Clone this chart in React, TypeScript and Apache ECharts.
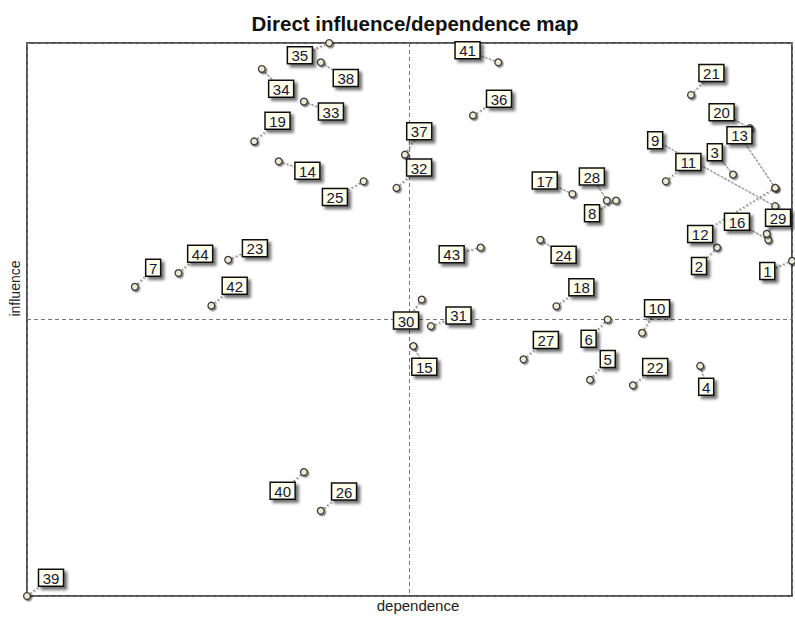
import React, { useEffect, useRef } from "react";
import * as echarts from "echarts";

// Variable ids 1..44
const variables = [
  1, 2, 3, 4, 5, 6, 7, 8, 9, 10, 11, 12, 13, 14, 15, 16, 17, 18, 19, 20, 21, 22,
  23, 24, 25, 26, 27, 28, 29, 30, 31, 32, 33, 34, 35, 36, 37, 38, 39, 40, 41, 42, 43, 44,
];

// dependence (x) for each variable
const dependence = [
  100.0, 90.2, 92.3, 88.0, 73.6, 75.9, 14.1, 77.0, 97.8, 80.4, 83.5, 97.8, 97.8, 32.9,
  50.5, 96.9, 71.3, 69.2, 29.7, 94.5, 86.8, 79.2, 26.3, 67.1, 44.0, 38.4, 64.9, 75.8,
  96.7, 51.6, 52.8, 48.3, 36.2, 30.7, 39.5, 58.3, 49.4, 38.4, 0.0, 36.2, 61.6, 24.1,
  59.3, 19.8,
];

// influence (y) for each variable
const influence = [
  60.6, 63.0, 76.2, 41.6, 39.1, 50.0, 55.9, 71.5, 70.5, 47.6, 75.0, 73.8, 73.8, 78.6,
  45.2, 64.4, 72.7, 52.4, 82.2, 84.6, 90.6, 38.1, 60.8, 64.4, 75.0, 15.4, 42.8, 71.5,
  65.5, 53.6, 48.8, 73.8, 89.4, 95.3, 100.0, 86.9, 79.8, 96.5, 0.0, 22.4, 96.5, 52.5,
  63.0, 58.4,
];

// label placement (pixel offsets of label box centre from the point) - layout only
const labelDx = [
  -24.7, -18, -18.3, 6, 17.7, -19, 18.3, -24, -120, 15, 22.6, -75, -35.7, 28.7, 11,
  -31.3, -27.7, 25, 23.3, -28.3, 20.4, 22.3, 26.7, 23.3, -28.7, 23.3, 22.4, -15, 11.3,
  -15.7, 27.6, 22.6, 27, 19.3, -29.3, 26, 14.3, 25, 24, -21.3, -30.7, 23.3, -29, 21.7,
];
const labelDy = [
  10, 18.3, -22.4, 20.7, -20.7, 19.3, -19, 12.7, -66, -24.4, -19.3, 46, -52.7, 9.4,
  20.7, -18, -13.4, -19, -20.6, -16, -22, -18.3, -11.6, 15, 15.7, -19.3, -19.3, -24,
  -16, 21, -10.7, -20.3, 10, 19.7, 12.3, -16.7, -23.4, 15.6, -18.3, 18.7, -12, -20,
  6.6, -19.4,
];

const FONT = "'Liberation Sans', Arial, sans-serif";

export default function App() {
  const ref = useRef<HTMLDivElement>(null);

  useEffect(() => {
    if (!ref.current) return;
    const chart = echarts.init(ref.current, null, { renderer: "svg", width: 795, height: 618 });
    const data = variables.map((v, i) => [dependence[i], influence[i], v]);

    const option: any = {
      animation: false,
      backgroundColor: "#ffffff",
      title: {
        text: "Direct influence/dependence map",
        left: 410,
        textAlign: "center",
        top: 8,
        textStyle: {
          fontFamily: FONT,
          fontWeight: "bold",
          fontSize: 20.5,
          color: "#111111",
        },
      },
      grid: {
        left: 27,
        top: 43,
        width: 765,
        height: 562,
        show: true,
        borderColor: "#1a1a1a",
        borderWidth: 1.5,
        backgroundColor: "#ffffff",
      },
      xAxis: {
        type: "value",
        min: 0,
        max: 100,
        interval: 50,
        name: "dependence",
        nameLocation: "middle",
        nameGap: 2,
        nameTextStyle: {
          fontFamily: FONT,
          fontSize: 15,
          color: "#222222",
          padding: [0, 0, 0, 17],
        },
        axisLine: { show: false },
        axisTick: { show: false },
        axisLabel: { show: false },
        splitLine: {
          show: true,
          lineStyle: { color: "#777777", type: [4, 3], width: 1 },
        },
      },
      yAxis: {
        type: "value",
        min: 0,
        max: 100,
        interval: 50,
        name: "influence",
        nameLocation: "middle",
        nameGap: 5,
        nameRotate: 90,
        nameTextStyle: {
          fontFamily: FONT,
          fontSize: 14,
          color: "#222222",
          padding: [0, 0, 0, 62],
        },
        axisLine: { show: false },
        axisTick: { show: false },
        axisLabel: { show: false },
        splitLine: {
          show: true,
          lineStyle: { color: "#777777", type: [4, 3], width: 1 },
        },
      },
      series: [
        {
          name: "leaders",
          type: "custom",
          z: 2,
          clip: false,
          encode: { x: 0, y: 1 },
          data,
          renderItem: (params: any, api: any) => {
            const p = api.coord([api.value(0), api.value(1)]);
            const i = params.dataIndex;
            return {
              type: "line",
              shape: { x1: p[0], y1: p[1], x2: p[0] + labelDx[i], y2: p[1] + labelDy[i] },
              style: {
                stroke: "#8a8a8a",
                lineWidth: 1.3,
                lineDash: [2, 2],
                shadowColor: "rgba(0,0,0,0.25)",
                shadowOffsetX: 1,
                shadowOffsetY: 1,
              },
              silent: true,
            };
          },
        },
        {
          name: "points",
          type: "custom",
          z: 3,
          clip: false,
          encode: { x: 0, y: 1 },
          data,
          renderItem: (params: any, api: any) => {
            const p = api.coord([api.value(0), api.value(1)]);
            return {
              type: "circle",
              shape: { cx: p[0], cy: p[1], r: 3.4 },
              style: {
                fill: "#ecebd2",
                stroke: "#3a3a3a",
                lineWidth: 1.3,
                shadowColor: "rgba(0,0,0,0.45)",
                shadowBlur: 1,
                shadowOffsetX: 1.5,
                shadowOffsetY: 1.5,
              },
            };
          },
        },
        {
          name: "labels",
          type: "custom",
          z: 4,
          clip: false,
          encode: { x: 0, y: 1 },
          data,
          renderItem: (params: any, api: any) => {
            const p = api.coord([api.value(0), api.value(1)]);
            const i = params.dataIndex;
            const id = String(api.value(2));
            const w = id.length === 1 ? 15 : 25;
            const h = 17;
            const cx = p[0] + labelDx[i];
            const cy = p[1] + labelDy[i];
            return {
              type: "group",
              children: [
                {
                  type: "rect",
                  shape: { x: cx - w / 2, y: cy - h / 2, width: w, height: h },
                  style: {
                    fill: "#ffffea",
                    stroke: "#111111",
                    lineWidth: 1.5,
                    shadowColor: "rgba(0,0,0,0.55)",
                    shadowBlur: 3,
                    shadowOffsetX: 3,
                    shadowOffsetY: 3,
                  },
                },
                {
                  type: "text",
                  x: cx,
                  y: cy + 0.5,
                  style: {
                    text: id,
                    fill: "#14143c",
                    fontFamily: FONT,
                    fontSize: 15,
                    align: "center",
                    verticalAlign: "middle",
                  },
                },
              ],
            };
          },
        },
      ],
    };

    chart.setOption(option);
    return () => chart.dispose();
  }, []);

  return (
    <div
      ref={ref}
      style={{ position: "fixed", left: 0, top: 0, width: 795, height: 618, background: "#fff" }}
    />
  );
}
